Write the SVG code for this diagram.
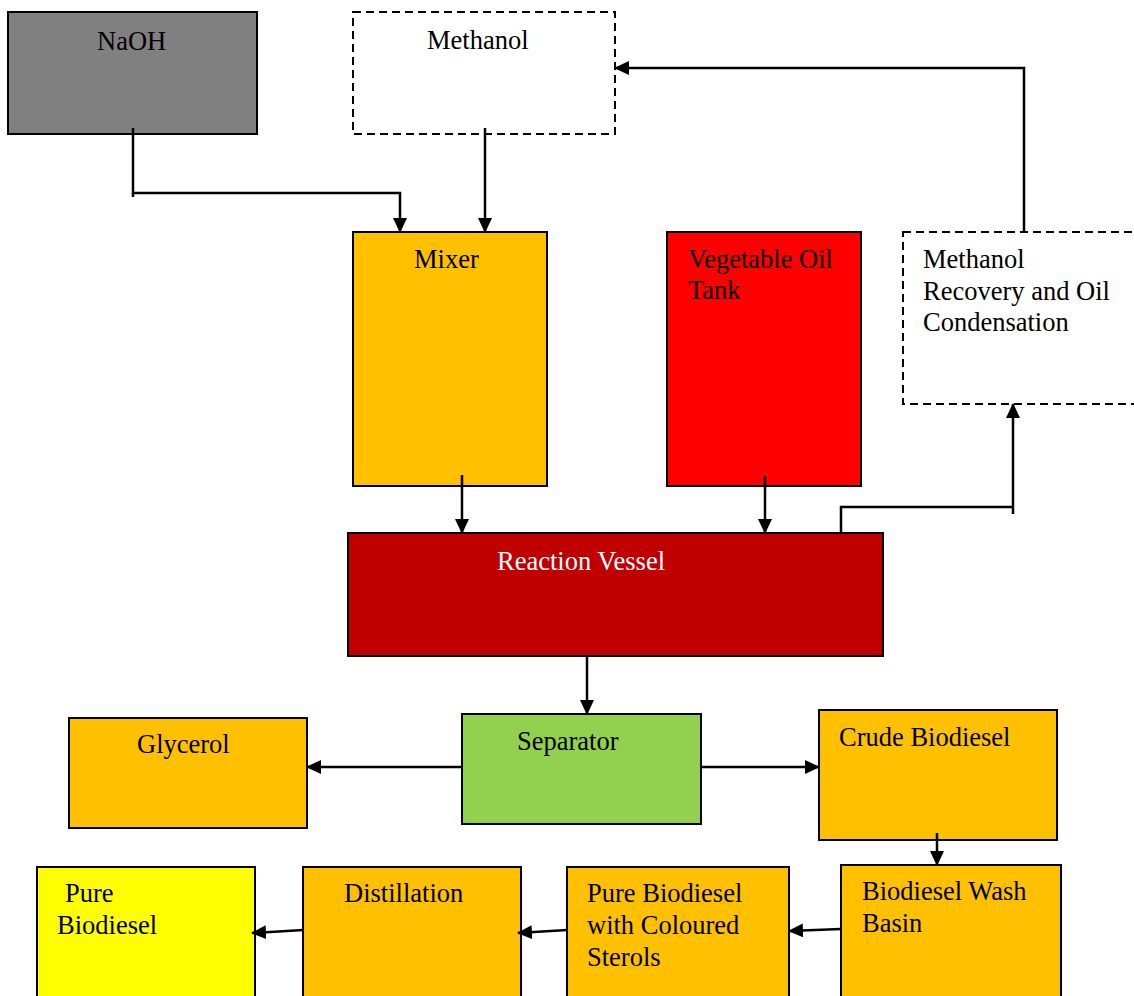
<svg xmlns="http://www.w3.org/2000/svg" width="1134" height="996" viewBox="0 0 1134 996">
<style>
.box{stroke:#000;stroke-width:2}
.dash{fill:#fff;stroke:#000;stroke-width:2;stroke-dasharray:8 5}
.t{font-family:"Liberation Serif","Times New Roman",serif;font-size:26.5px;fill:#000}
.w{fill:#fff}
.c{fill:none;stroke:#000;stroke-width:2.5}
</style>
<defs>
<marker id="ah" viewBox="0 0 15 14" refX="14" refY="7" markerWidth="15" markerHeight="14" markerUnits="userSpaceOnUse" orient="auto">
<path d="M0,0 L15,7 L0,14 Z" fill="#000"/>
</marker>
</defs>
<rect width="1134" height="996" fill="#fff"/>
<g id="naoh"><rect class="box" x="8" y="12" width="249" height="122" fill="#808080"/><text class="t" x="97" y="50">NaOH</text></g>
<g id="methanol"><rect class="dash" x="353" y="12" width="262" height="122"/><text class="t" x="427" y="49">Methanol</text></g>
<g id="mixer"><rect class="box" x="353" y="232" width="194" height="254" fill="#FFC000"/><text class="t" x="414" y="268">Mixer</text></g>
<g id="vegoil"><rect class="box" x="667" y="232" width="194" height="254" fill="#FF0000"/><text class="t" x="688" y="268">Vegetable Oil</text><text class="t" x="688" y="299">Tank</text></g>
<g id="recovery"><rect class="dash" x="903" y="232" width="240" height="172"/><text class="t" x="923" y="268">Methanol</text><text class="t" x="923" y="300">Recovery and Oil</text><text class="t" x="923" y="331">Condensation</text></g>
<g id="reaction"><rect class="box" x="348" y="533" width="535" height="123" fill="#C00000"/><text class="t w" x="497" y="570">Reaction Vessel</text></g>
<g id="separator"><rect class="box" x="462" y="714" width="239" height="110" fill="#92D050"/><text class="t" x="517" y="750">Separator</text></g>
<g id="glycerol"><rect class="box" x="69" y="718" width="238" height="110" fill="#FFC000"/><text class="t" x="137" y="753">Glycerol</text></g>
<g id="crude"><rect class="box" x="819" y="710" width="238" height="130" fill="#FFC000"/><text class="t" x="839" y="746">Crude Biodiesel</text></g>
<g id="wash"><rect class="box" x="841" y="865" width="220" height="140" fill="#FFC000"/><text class="t" x="862" y="900">Biodiesel Wash</text><text class="t" x="862" y="932">Basin</text></g>
<g id="sterols"><rect class="box" x="567" y="867" width="222" height="140" fill="#FFC000"/><text class="t" x="587" y="902">Pure Biodiesel</text><text class="t" x="587" y="934">with Coloured</text><text class="t" x="587" y="966">Sterols</text></g>
<g id="distillation"><rect class="box" x="303" y="867" width="218" height="140" fill="#FFC000"/><text class="t" x="344" y="902">Distillation</text></g>
<g id="pure"><rect class="box" x="37" y="867" width="218" height="140" fill="#FFFF00"/><text class="t" x="65" y="902">Pure</text><text class="t" x="57" y="934">Biodiesel</text></g>
<g id="connectors">
<polyline class="c" points="133,128 133,193 400,193 400,232" marker-end="url(#ah)"/>
<line class="c" x1="133" y1="193" x2="133" y2="197"/>
<line class="c" x1="485" y1="128" x2="485" y2="232" marker-end="url(#ah)"/>
<polyline class="c" points="1024,232 1024,68 615,68" marker-end="url(#ah)"/>
<line class="c" x1="462" y1="475" x2="462" y2="533" marker-end="url(#ah)"/>
<line class="c" x1="765" y1="476" x2="765" y2="533" marker-end="url(#ah)"/>
<polyline class="c" points="841,533 841,507 1013,507"/>
<line class="c" x1="1013" y1="514" x2="1013" y2="404" marker-end="url(#ah)"/>
<line class="c" x1="587" y1="656" x2="587" y2="714" marker-end="url(#ah)"/>
<line class="c" x1="462" y1="767" x2="307" y2="767" marker-end="url(#ah)"/>
<line class="c" x1="701" y1="767" x2="819" y2="767" marker-end="url(#ah)"/>
<line class="c" x1="937" y1="833" x2="937" y2="865" marker-end="url(#ah)"/>
<line class="c" x1="841" y1="929" x2="789" y2="931" marker-end="url(#ah)"/>
<line class="c" x1="567" y1="930" x2="518" y2="933" marker-end="url(#ah)"/>
<line class="c" x1="303" y1="930" x2="252" y2="933" marker-end="url(#ah)"/>
</g>
</svg>
